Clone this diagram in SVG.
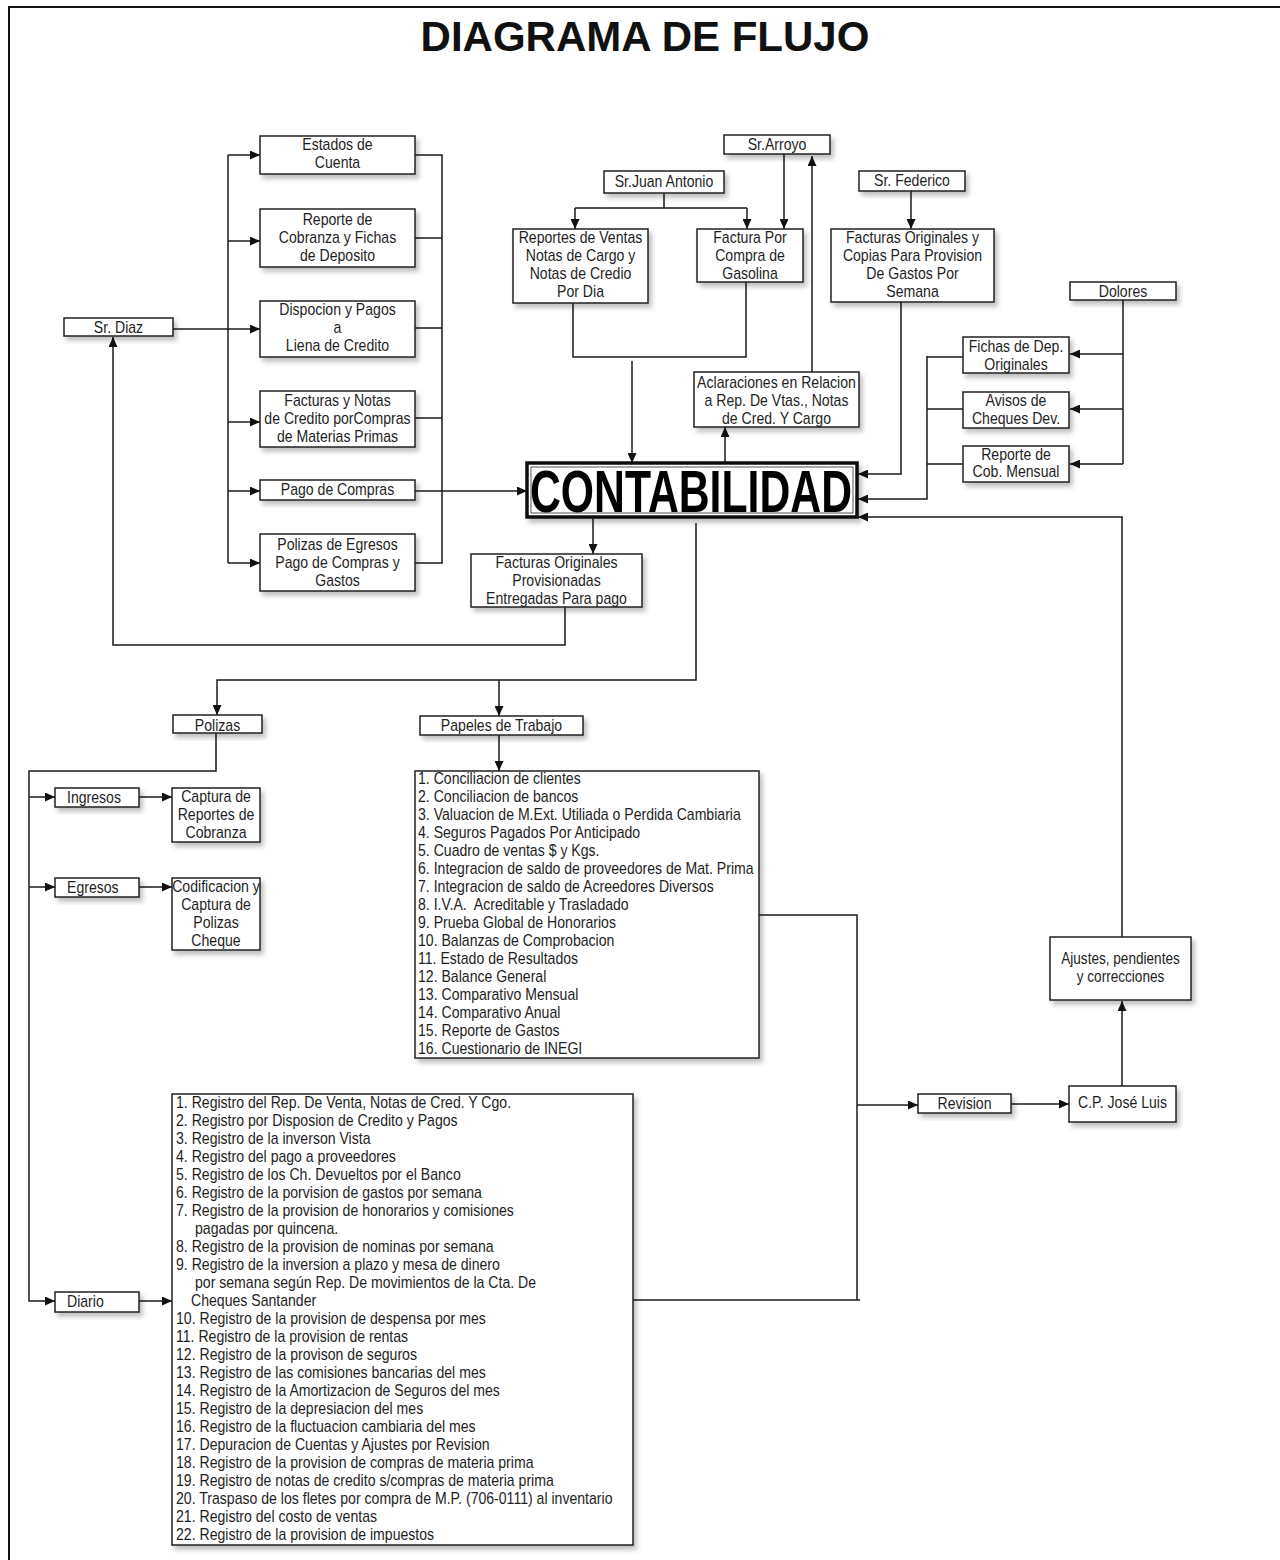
<svg xmlns="http://www.w3.org/2000/svg" width="1280" height="1560" viewBox="0 0 1280 1560">
<defs>
<style>
.b{fill:#fff;stroke:#222;stroke-width:1.5}
.t{font-family:"Liberation Sans",Arial,sans-serif;font-size:16px;fill:#1e1e1e;text-anchor:middle}
.l{font-family:"Liberation Sans",Arial,sans-serif;font-size:16px;fill:#1e1e1e}
.c{fill:none;stroke:#1a1a1a;stroke-width:1.5}
.a{fill:none;stroke:#1a1a1a;stroke-width:1.5;marker-end:url(#ah)}
</style>
<marker id="ah" markerUnits="userSpaceOnUse" markerWidth="10" markerHeight="9" refX="10" refY="4.5" orient="auto">
<path d="M0,0 L10,4.5 L0,9 z" fill="#111"/>
</marker>
<filter id="sh" x="-10%" y="-20%" width="130%" height="160%">
<feDropShadow dx="3" dy="4" stdDeviation="2.5" flood-color="#000" flood-opacity="0.25"/>
</filter>
</defs>
<rect width="1280" height="1560" fill="#fff"/>
<path d="M1280,7 H9 V1560" fill="none" stroke="#111" stroke-width="2"/>
<text x="645" y="51" font-family="Liberation Sans,Arial,sans-serif" font-weight="bold" font-size="42" text-anchor="middle" fill="#111">DIAGRAMA DE FLUJO</text>

<g id="connectors">
<path class="a" d="M173,329 H260"/>
<path class="c" d="M228,155 V563"/>
<path class="a" d="M228,155 H260"/>
<path class="a" d="M228,241 H260"/>
<path class="a" d="M228,422 H260"/>
<path class="a" d="M228,491 H260"/>
<path class="a" d="M228,563 H260"/>
<path class="c" d="M415,155 H442 V563 H415 M415,238 H442 M415,328 H442 M415,418 H442"/>
<path class="a" d="M415,491 H527"/>
<path class="c" d="M573,303 V357 H746 V282"/>
<path class="a" d="M632,361 V463"/>
<path class="c" d="M664,193 V208 M575,208 H747"/>
<path class="a" d="M575,208 V229"/>
<path class="a" d="M747,208 V229"/>
<path class="a" d="M784,154 V229"/>
<path class="a" d="M812,372 V156"/>
<path class="a" d="M725,463 V427"/>
<path class="a" d="M911,191 V229"/>
<path class="a" d="M901,302 V474 H858"/>
<path class="c" d="M1123,300 V464"/>
<path class="a" d="M1123,354 H1070"/>
<path class="a" d="M1123,409 H1070"/>
<path class="a" d="M1123,464 H1070"/>
<path class="c" d="M963,357 H927 M963,409 H927 M963,464 H927"/>
<path class="a" d="M927,356 V499 H858"/>
<path class="a" d="M1122,937 V517 H858"/>
<path class="a" d="M1122,1086 V1001"/>
<path class="a" d="M1011,1104 H1069"/>
<path class="c" d="M759,915 H857 V1300 M632,1300 H860"/>
<path class="a" d="M857,1105 H918"/>
<path class="a" d="M593,518 V554"/>
<path class="a" d="M565,607 V645 H113 V337"/>
<path class="a" d="M696,523 V680 H217 V715"/>
<path class="a" d="M499,680 V716"/>
<path class="a" d="M499,735 V771"/>
<path class="a" d="M216,733 V771 H29 V1301 H55"/>
<path class="a" d="M29,797 H55"/>
<path class="a" d="M29,887 H55"/>
<path class="a" d="M139,797 H172"/>
<path class="a" d="M139,887 H172"/>
<path class="a" d="M139,1301 H172"/>
</g>

<g id="estados">
<rect class="b" filter="url(#sh)" x="260" y="136" width="155" height="38"/>
<text class="t" transform="matrix(.88 0 0 1 337.5 150)">Estados de</text>
<text class="t" transform="matrix(.88 0 0 1 337.5 168)">Cuenta</text>
</g>
<g id="reporte-cobranza">
<rect class="b" filter="url(#sh)" x="260" y="209" width="155" height="58"/>
<text class="t" transform="matrix(.88 0 0 1 337.5 225)">Reporte de</text>
<text class="t" transform="matrix(.88 0 0 1 337.5 243)">Cobranza y Fichas</text>
<text class="t" transform="matrix(.88 0 0 1 337.5 261)">de Deposito</text>
</g>
<g id="dispocion">
<rect class="b" filter="url(#sh)" x="260" y="301" width="155" height="56"/>
<text class="t" transform="matrix(.88 0 0 1 337.5 315)">Dispocion y Pagos</text>
<text class="t" transform="matrix(.88 0 0 1 337.5 333)">a</text>
<text class="t" transform="matrix(.88 0 0 1 337.5 351)">Liena de Credito</text>
</g>
<g id="sr-diaz">
<rect class="b" filter="url(#sh)" x="64" y="318" width="109" height="18"/>
<text class="t" transform="matrix(.88 0 0 1 118.5 333)">Sr. Diaz</text>
</g>
<g id="facturas-notas">
<rect class="b" filter="url(#sh)" x="260" y="391" width="155" height="56"/>
<text class="t" transform="matrix(.88 0 0 1 337.5 406)">Facturas y Notas</text>
<text class="t" transform="matrix(.88 0 0 1 337.5 424)">de Credito porCompras</text>
<text class="t" transform="matrix(.88 0 0 1 337.5 442)">de Materias Primas</text>
</g>
<g id="pago-compras">
<rect class="b" filter="url(#sh)" x="260" y="480" width="155" height="20"/>
<text class="t" transform="matrix(.88 0 0 1 337.5 495)">Pago de Compras</text>
</g>
<g id="polizas-egresos">
<rect class="b" filter="url(#sh)" x="260" y="534" width="155" height="57"/>
<text class="t" transform="matrix(.88 0 0 1 337.5 550)">Polizas de Egresos</text>
<text class="t" transform="matrix(.88 0 0 1 337.5 568)">Pago de Compras y</text>
<text class="t" transform="matrix(.88 0 0 1 337.5 586)">Gastos</text>
</g>
<g id="sr-arroyo">
<rect class="b" filter="url(#sh)" x="724" y="135" width="106" height="19"/>
<text class="t" transform="matrix(.88 0 0 1 777 150)">Sr.Arroyo</text>
</g>
<g id="sr-juan">
<rect class="b" filter="url(#sh)" x="604" y="171" width="120" height="22"/>
<text class="t" transform="matrix(.88 0 0 1 664 187)">Sr.Juan Antonio</text>
</g>
<g id="reportes-ventas">
<rect class="b" filter="url(#sh)" x="513" y="229" width="135" height="74"/>
<text class="t" transform="matrix(.88 0 0 1 580.5 243)">Reportes de Ventas</text>
<text class="t" transform="matrix(.88 0 0 1 580.5 261)">Notas de Cargo y</text>
<text class="t" transform="matrix(.88 0 0 1 580.5 279)">Notas de Credio</text>
<text class="t" transform="matrix(.88 0 0 1 580.5 297)">Por Dia</text>
</g>
<g id="factura-gasolina">
<rect class="b" filter="url(#sh)" x="697" y="229" width="106" height="53"/>
<text class="t" transform="matrix(.88 0 0 1 750 243)">Factura Por</text>
<text class="t" transform="matrix(.88 0 0 1 750 261)">Compra de</text>
<text class="t" transform="matrix(.88 0 0 1 750 279)">Gasolina</text>
</g>
<g id="aclaraciones">
<rect class="b" filter="url(#sh)" x="694" y="372" width="165" height="55"/>
<text class="t" transform="matrix(.88 0 0 1 776.5 388)">Aclaraciones en Relacion</text>
<text class="t" transform="matrix(.88 0 0 1 776.5 406)">a Rep. De Vtas., Notas</text>
<text class="t" transform="matrix(.88 0 0 1 776.5 424)">de Cred. Y Cargo</text>
</g>
<g id="sr-federico">
<rect class="b" filter="url(#sh)" x="859" y="171" width="106" height="20"/>
<text class="t" transform="matrix(.88 0 0 1 912 186)">Sr. Federico</text>
</g>
<g id="facturas-copias">
<rect class="b" filter="url(#sh)" x="831" y="229" width="163" height="73"/>
<text class="t" transform="matrix(.88 0 0 1 912.5 243)">Facturas Originales y</text>
<text class="t" transform="matrix(.88 0 0 1 912.5 261)">Copias Para Provision</text>
<text class="t" transform="matrix(.88 0 0 1 912.5 279)">De Gastos Por</text>
<text class="t" transform="matrix(.88 0 0 1 912.5 297)">Semana</text>
</g>
<g id="dolores">
<rect class="b" filter="url(#sh)" x="1070" y="282" width="106" height="18"/>
<text class="t" transform="matrix(.88 0 0 1 1123 297)">Dolores</text>
</g>
<g id="fichas-dep">
<rect class="b" filter="url(#sh)" x="963" y="337" width="106" height="36"/>
<text class="t" transform="matrix(.88 0 0 1 1016 352)">Fichas de Dep.</text>
<text class="t" transform="matrix(.88 0 0 1 1016 370)">Originales</text>
</g>
<g id="avisos-cheques">
<rect class="b" filter="url(#sh)" x="963" y="392" width="106" height="36"/>
<text class="t" transform="matrix(.88 0 0 1 1016 406)">Avisos de</text>
<text class="t" transform="matrix(.88 0 0 1 1016 424)">Cheques Dev.</text>
</g>
<g id="reporte-cob-mensual">
<rect class="b" filter="url(#sh)" x="963" y="446" width="106" height="36"/>
<text class="t" transform="matrix(.88 0 0 1 1016 460)">Reporte de</text>
<text class="t" transform="matrix(.88 0 0 1 1016 477)">Cob. Mensual</text>
</g>
<g id="contabilidad">
<rect x="527" y="463" width="330" height="54" fill="#fff" stroke="#111" stroke-width="3.5" filter="url(#sh)"/>
<rect x="531" y="467" width="322" height="46" fill="none" stroke="#555" stroke-width="1"/>
<text x="530" y="512" font-family="Liberation Sans,Arial,sans-serif" font-weight="bold" font-size="60" fill="#000" textLength="322" lengthAdjust="spacingAndGlyphs">CONTABILIDAD</text>
</g>
<g id="facturas-provisionadas">
<rect class="b" filter="url(#sh)" x="471" y="554" width="171" height="53"/>
<text class="t" transform="matrix(.88 0 0 1 556.5 568)">Facturas Originales</text>
<text class="t" transform="matrix(.88 0 0 1 556.5 586)">Provisionadas</text>
<text class="t" transform="matrix(.88 0 0 1 556.5 604)">Entregadas Para pago</text>
</g>
<g id="polizas">
<rect class="b" filter="url(#sh)" x="173" y="715" width="89" height="18"/>
<text class="t" transform="matrix(.88 0 0 1 217.5 731)">Polizas</text>
</g>
<g id="papeles">
<rect class="b" filter="url(#sh)" x="420" y="716" width="163" height="19"/>
<text class="t" transform="matrix(.88 0 0 1 501.5 731)">Papeles de Trabajo</text>
</g>
<g id="ingresos">
<rect class="b" filter="url(#sh)" x="55" y="788" width="84" height="19"/>
<text class="l" transform="matrix(.88 0 0 1 67 803)">Ingresos</text>
</g>
<g id="captura-reportes">
<rect class="b" filter="url(#sh)" x="172" y="788" width="88" height="54"/>
<text class="t" transform="matrix(.88 0 0 1 216 802)">Captura de</text>
<text class="t" transform="matrix(.88 0 0 1 216 820)">Reportes de</text>
<text class="t" transform="matrix(.88 0 0 1 216 838)">Cobranza</text>
</g>
<g id="egresos">
<rect class="b" filter="url(#sh)" x="55" y="878" width="84" height="19"/>
<text class="l" transform="matrix(.88 0 0 1 67 893)">Egresos</text>
</g>
<g id="codificacion">
<rect class="b" filter="url(#sh)" x="172" y="878" width="88" height="72"/>
<text class="t" transform="matrix(.88 0 0 1 216 892)">Codificacion y</text>
<text class="t" transform="matrix(.88 0 0 1 216 910)">Captura de</text>
<text class="t" transform="matrix(.88 0 0 1 216 928)">Polizas</text>
<text class="t" transform="matrix(.88 0 0 1 216 946)">Cheque</text>
</g>
<g id="diario">
<rect class="b" filter="url(#sh)" x="55" y="1292" width="84" height="20"/>
<text class="l" transform="matrix(.88 0 0 1 67 1307)">Diario</text>
</g>
<g id="papeles-lista">
<rect class="b" filter="url(#sh)" x="415" y="771" width="344" height="287"/>
<text class="l" transform="matrix(.88 0 0 1 418 784)">1. Conciliacion de clientes</text>
<text class="l" transform="matrix(.88 0 0 1 418 802)">2. Conciliacion de bancos</text>
<text class="l" transform="matrix(.88 0 0 1 418 820)">3. Valuacion de M.Ext. Utiliada o Perdida Cambiaria</text>
<text class="l" transform="matrix(.88 0 0 1 418 838)">4. Seguros Pagados Por Anticipado</text>
<text class="l" transform="matrix(.88 0 0 1 418 856)">5. Cuadro de ventas $ y Kgs.</text>
<text class="l" transform="matrix(.88 0 0 1 418 874)">6. Integracion de saldo de proveedores de Mat. Prima</text>
<text class="l" transform="matrix(.88 0 0 1 418 892)">7. Integracion de saldo de Acreedores Diversos</text>
<text class="l" transform="matrix(.88 0 0 1 418 910)" xml:space="preserve">8. I.V.A.  Acreditable y Trasladado</text>
<text class="l" transform="matrix(.88 0 0 1 418 928)">9. Prueba Global de Honorarios</text>
<text class="l" transform="matrix(.88 0 0 1 418 946)">10. Balanzas de Comprobacion</text>
<text class="l" transform="matrix(.88 0 0 1 418 964)">11. Estado de Resultados</text>
<text class="l" transform="matrix(.88 0 0 1 418 982)">12. Balance General</text>
<text class="l" transform="matrix(.88 0 0 1 418 1000)">13. Comparativo Mensual</text>
<text class="l" transform="matrix(.88 0 0 1 418 1018)">14. Comparativo Anual</text>
<text class="l" transform="matrix(.88 0 0 1 418 1036)">15. Reporte de Gastos</text>
<text class="l" transform="matrix(.88 0 0 1 418 1054)">16. Cuestionario de INEGI</text>
</g>
<g id="diario-lista">
<rect class="b" filter="url(#sh)" x="172" y="1094" width="461" height="451"/>
<text class="l" transform="matrix(.88 0 0 1 176 1108)">1. Registro del Rep. De Venta, Notas de Cred. Y Cgo.</text>
<text class="l" transform="matrix(.88 0 0 1 176 1126)">2. Registro por Disposion de Credito y Pagos</text>
<text class="l" transform="matrix(.88 0 0 1 176 1144)">3. Registro de la inverson Vista</text>
<text class="l" transform="matrix(.88 0 0 1 176 1162)">4. Registro del pago a proveedores</text>
<text class="l" transform="matrix(.88 0 0 1 176 1180)">5. Registro de los Ch. Devueltos por el Banco</text>
<text class="l" transform="matrix(.88 0 0 1 176 1198)">6. Registro de la porvision de gastos por semana</text>
<text class="l" transform="matrix(.88 0 0 1 176 1216)">7. Registro de la provision de honorarios y comisiones</text>
<text class="l" transform="matrix(.88 0 0 1 195 1234)">pagadas por quincena.</text>
<text class="l" transform="matrix(.88 0 0 1 176 1252)">8. Registro de la provision de nominas por semana</text>
<text class="l" transform="matrix(.88 0 0 1 176 1270)">9. Registro de la inversion a plazo y mesa de dinero</text>
<text class="l" transform="matrix(.88 0 0 1 195 1288)">por semana según Rep. De movimientos de la Cta. De</text>
<text class="l" transform="matrix(.88 0 0 1 191 1306)">Cheques Santander</text>
<text class="l" transform="matrix(.88 0 0 1 176 1324)">10. Registro de la provision de despensa por mes</text>
<text class="l" transform="matrix(.88 0 0 1 176 1342)">11. Registro de la provision de rentas</text>
<text class="l" transform="matrix(.88 0 0 1 176 1360)">12. Registro de la provison de seguros</text>
<text class="l" transform="matrix(.88 0 0 1 176 1378)">13. Registro de las comisiones bancarias del mes</text>
<text class="l" transform="matrix(.88 0 0 1 176 1396)">14. Registro de la Amortizacion de Seguros del mes</text>
<text class="l" transform="matrix(.88 0 0 1 176 1414)">15. Registro de la depresiacion del mes</text>
<text class="l" transform="matrix(.88 0 0 1 176 1432)">16. Registro de la fluctuacion cambiaria del mes</text>
<text class="l" transform="matrix(.88 0 0 1 176 1450)">17. Depuracion de Cuentas y Ajustes por Revision</text>
<text class="l" transform="matrix(.88 0 0 1 176 1468)">18. Registro de la provision de compras de materia prima</text>
<text class="l" transform="matrix(.88 0 0 1 176 1486)">19. Registro de notas de credito s/compras de materia prima</text>
<text class="l" transform="matrix(.88 0 0 1 176 1504)">20. Traspaso de los fletes por compra de M.P. (706-0111) al inventario</text>
<text class="l" transform="matrix(.88 0 0 1 176 1522)">21. Registro del costo de ventas</text>
<text class="l" transform="matrix(.88 0 0 1 176 1540)">22. Registro de la provision de impuestos</text>
</g>
<g id="revision">
<rect class="b" filter="url(#sh)" x="918" y="1094" width="93" height="19"/>
<text class="t" transform="matrix(.88 0 0 1 964.5 1109)">Revision</text>
</g>
<g id="jose-luis">
<rect class="b" filter="url(#sh)" x="1069" y="1086" width="107" height="36"/>
<text class="t" transform="matrix(.88 0 0 1 1122.5 1108)">C.P. José Luis</text>
</g>
<g id="ajustes">
<rect class="b" filter="url(#sh)" x="1050" y="937" width="141" height="63"/>
<text class="t" transform="matrix(.85 0 0 1 1120.5 964)">Ajustes, pendientes</text>
<text class="t" transform="matrix(.85 0 0 1 1120.5 982)">y correcciones</text>
</g>
</svg>
